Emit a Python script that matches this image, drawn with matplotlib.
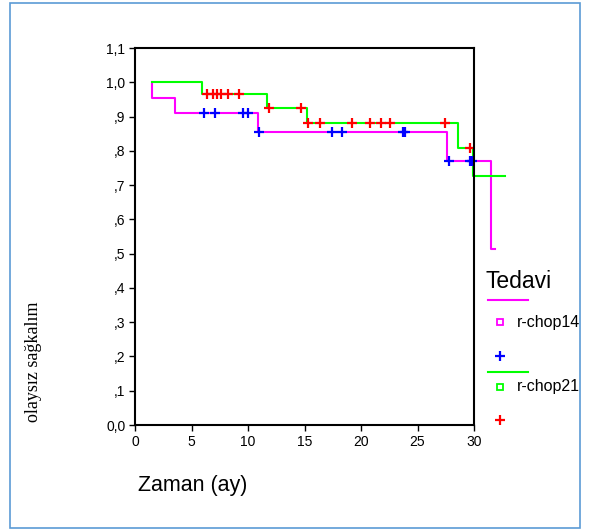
import matplotlib
matplotlib.use('Agg')

import matplotlib.pyplot as plt
import numpy as np
from matplotlib.lines import Line2D
from matplotlib.patches import Rectangle

plt.rcParams['font.family'] = ['Liberation Sans', 'DejaVu Sans']

# r-chop14: step curve (time, survival) and censored times
t14 = [1.5, 1.5, 3.5, 10.9, 27.6, 31.5, 31.9]
s14 = [1.0, 0.955, 0.909, 0.856, 0.770, 0.513, 0.513]
c14 = [6.1, 7.1, 9.6, 10.0, 10.95, 17.4, 18.3, 23.7, 23.9, 27.8, 29.6, 29.8]

# r-chop21
t21 = [1.5, 5.9, 11.65, 15.2, 28.6, 29.9, 32.7]
s21 = [1.0, 0.967, 0.924, 0.880, 0.807, 0.728, 0.728]
c21 = [6.4, 6.9, 7.3, 7.6, 8.2, 9.2, 11.9, 14.65, 15.3, 16.4, 19.2,
       20.8, 21.8, 22.6, 27.4, 29.6]

xticks = [0, 5, 10, 15, 20, 25, 30]
yticks = [0.0, 0.1, 0.2, 0.3, 0.4, 0.5, 0.6, 0.7, 0.8, 0.9, 1.0, 1.1]
ylabels = ["0,0", ",1", ",2", ",3", ",4", ",5", ",6", ",7", ",8", ",9", "1,0", "1,1"]


def surv_at(times, surv, x):
    idx = np.searchsorted(times, x, side='right') - 1
    return np.array(surv)[idx]


fig = plt.figure(figsize=(5.89, 5.31), dpi=100)
ax = fig.add_axes([0.2292, 0.1996, 0.5756, 0.71])

ax.step(t14, s14, where='post', color='#ff00ff', lw=1.5, clip_on=False, zorder=3)
ax.step(t21, s21, where='post', color='#00ff00', lw=1.5, clip_on=False, zorder=3)
ax.plot(c14, surv_at(t14, s14, c14), '+', color='#0000ff', ms=7, mew=1.6,
        clip_on=False, zorder=4)
ax.plot(c21, surv_at(t21, s21, c21), '+', color='#ff0000', ms=7, mew=1.6,
        clip_on=False, zorder=4)

ax.set_xlim(0, 30)
ax.set_ylim(0, 1.1)
ax.set_xticks(xticks)
ax.set_yticks(yticks)
ax.set_yticklabels(ylabels)
ax.tick_params(labelsize=10, length=4, width=1, direction='out', pad=3)
for sp in ax.spines.values():
    sp.set_linewidth(1.5)
    sp.set_zorder(5)

fig.text(193 / 589, 1 - 485 / 531, "Zaman (ay)", fontsize=15.5,
         ha='center', va='center')
fig.text(33 / 589, 1 - 362 / 531, "olaysız sağkalım", fontsize=13,
         family=['Liberation Serif', 'DejaVu Serif'],
         rotation=90, ha='center', va='center')

# legend drawn by hand
def fx(px):
    return px / 589


def fy(py):
    return 1 - py / 531


fig.text(fx(486), fy(281), "Tedavi", fontsize=16.5, ha='left', va='center')
fig.add_artist(Line2D([fx(488), fx(528)], [fy(300), fy(300)], color='#ff00ff', lw=1.5))
fig.add_artist(Line2D([fx(500)], [fy(322)], marker='s', ms=4, mfc='white',
                      mec='#ff00ff', mew=1.3))
fig.text(fx(517), fy(322), "r-chop14", fontsize=11.5, ha='left', va='center')
fig.add_artist(Line2D([fx(500)], [fy(356)], marker='+', ms=7, color='#0000ff', mew=1.6))
fig.add_artist(Line2D([fx(488), fx(528)], [fy(372), fy(372)], color='#00ff00', lw=1.5))
fig.add_artist(Line2D([fx(500)], [fy(387)], marker='s', ms=4, mfc='white',
                      mec='#00ff00', mew=1.3))
fig.text(fx(517), fy(387), "r-chop21", fontsize=11.5, ha='left', va='center')
fig.add_artist(Line2D([fx(500)], [fy(420)], marker='+', ms=7, color='#ff0000', mew=1.6))

# outer frame
fig.add_artist(Rectangle((fx(10), fy(528)), fx(580) - fx(10), fy(3) - fy(528),
                         transform=fig.transFigure, fill=False,
                         edgecolor='#5b9bd5', lw=1.2))

fig.savefig("out.png", dpi=100)
plt.close()
